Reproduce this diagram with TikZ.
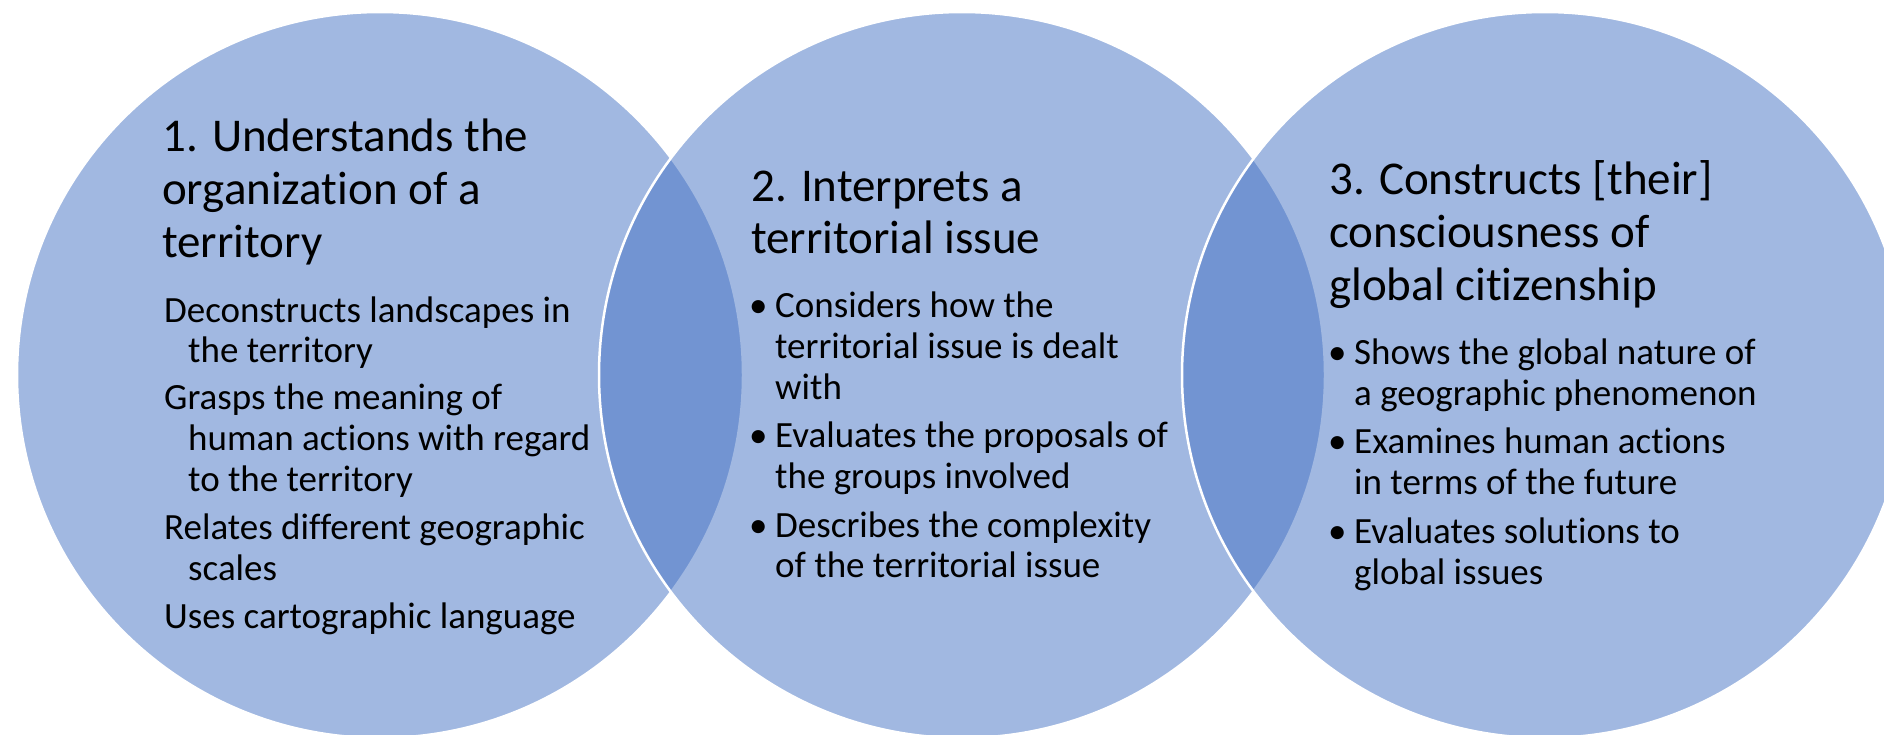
\documentclass[tikz,border=0pt]{standalone}
\usepackage{fontspec}
\setmainfont{Carlito}[Ligatures=NoCommon]
\definecolor{accent}{HTML}{4472C4}
\begin{document}
\begin{tikzpicture}[x=1pt,y=-1pt,
  venn/.style={circle, minimum size=726pt, inner sep=0pt, outer sep=0pt,
    fill=accent, fill opacity=0.5, draw=white, line width=2.5pt},
  ttl/.style={anchor=base west, inner sep=0pt, font=\fontsize{47}{52}\selectfont, text=black},
  txt/.style={anchor=base west, inner sep=0pt, font=\fontsize{37}{41}\selectfont, text=black},
  bul/.style={anchor=base west, inner sep=0pt, font=\fontsize{37}{41}\selectfont, text=black}]
\useasboundingbox (0,0) rectangle (1884,734);
\fill[white] (0,0) rectangle (1884,734);
\node[venn] (c1) at (380,375) {};
\node[venn] (c2) at (962,375) {};
\node[venn] (c3) at (1545,375) {};
% circle 1
\node[ttl] (t1a) at (162,151) {1. Understands the};
\node[ttl] (t1b) at (162,204) {organization of a};
\node[ttl] (t1c) at (162,257) {territory};
\node[txt] (b1a) at (164,322) {Deconstructs landscapes in};
\node[txt] (b1b) at (188,362) {the territory};
\node[txt] (b1c) at (164,409) {Grasps the meaning of};
\node[txt] (b1d) at (188,450) {human actions with regard};
\node[txt] (b1e) at (188,491) {to the territory};
\node[txt] (b1f) at (164,539) {Relates different geographic};
\node[txt] (b1g) at (188,580) {scales};
\node[txt] (b1h) at (164,628) {Uses cartographic language};
% circle 2
\node[ttl] (t2a) at (751,201) {2. Interprets a};
\node[ttl] (t2b) at (751,253) {territorial issue};
\node[bul] (u2a) at (749,317) {•};
\node[txt] (b2a) at (775,317) {Considers how the};
\node[txt] (b2b) at (775,358) {territorial issue is dealt};
\node[txt] (b2c) at (775,399) {with};
\node[bul] (u2b) at (749,447) {•};
\node[txt] (b2d) at (775,447) {Evaluates the proposals of};
\node[txt] (b2e) at (775,488) {the groups involved};
\node[bul] (u2c) at (749,537) {•};
\node[txt] (b2f) at (775,537) {Describes the complexity};
\node[txt] (b2g) at (775,577) {of the territorial issue};
% circle 3
\node[ttl] (t3a) at (1329,194) {3. Constructs [their]};
\node[ttl] (t3b) at (1329,247) {consciousness of};
\node[ttl] (t3c) at (1329,300) {global citizenship};
\node[bul] (u3a) at (1328,364) {•};
\node[txt] (b3a) at (1354,364) {Shows the global nature of};
\node[txt] (b3b) at (1354,405) {a geographic phenomenon};
\node[bul] (u3b) at (1328,453) {•};
\node[txt] (b3c) at (1354,453) {Examines human actions};
\node[txt] (b3d) at (1354,494) {in terms of the future};
\node[bul] (u3c) at (1328,543) {•};
\node[txt] (b3e) at (1354,543) {Evaluates solutions to};
\node[txt] (b3f) at (1354,584) {global issues};
\end{tikzpicture}
\end{document}
